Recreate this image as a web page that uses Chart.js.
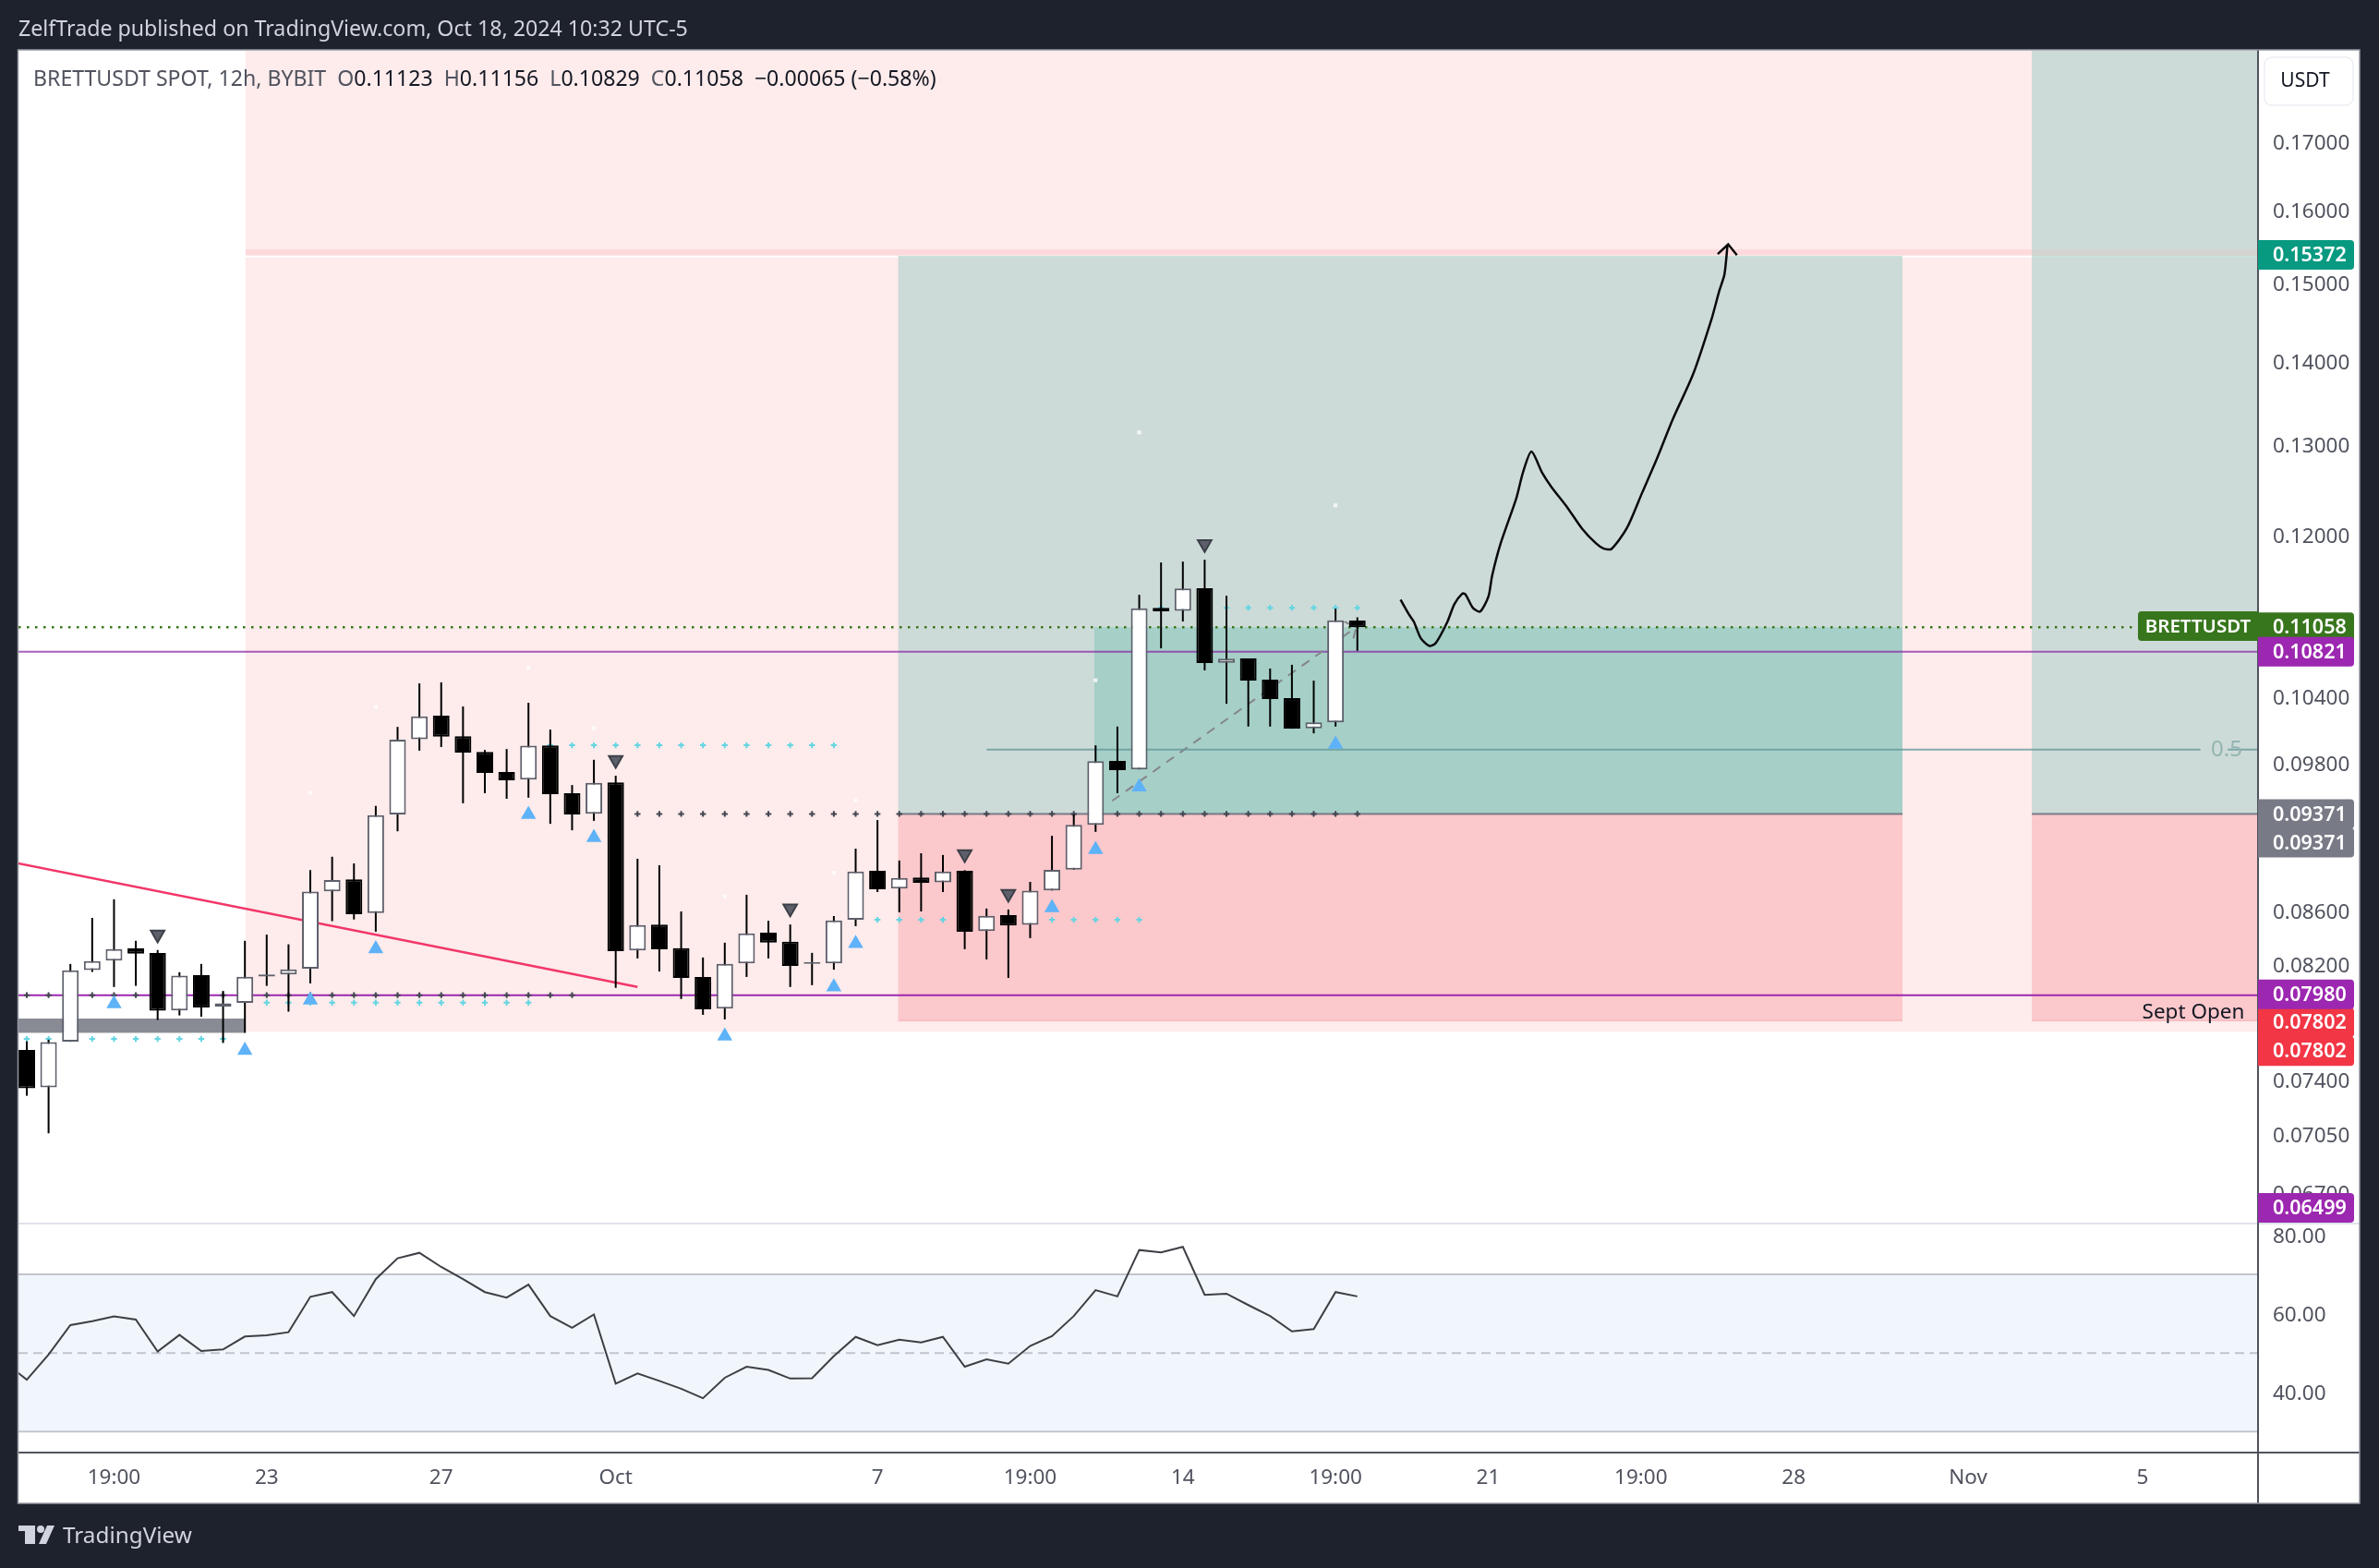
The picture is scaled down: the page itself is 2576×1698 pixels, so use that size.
<!DOCTYPE html>
<html><head><meta charset="utf-8">
<style>html,body{margin:0;padding:0;background:#1e222d}canvas{display:block}</style>
<script src="https://cdn.jsdelivr.net/npm/chart.js@4/dist/chart.umd.min.js"></script>
</head><body><canvas id="c" width="2576" height="1698" style="width:2576px;height:1698px"></canvas>
<script>
const opens=[.07601,.07353,.07657,.08160,.08228,.08318,.08284,.07873,.08123,.07898,.07926,.08113,.08127,.08170,.08749,.08843,.08582,.09366,.10013,.10224,.10039,.09901,.09726,.09660,.09958,.09545,.09372,.09637,.08303,.08496,.08319,.08110,.07885,.08208,.08435,.08367,.08205,.08208,.08531,.08910,.08771,.08858,.08820,.08910,.08446,.08567,.08494,.08756,.08919,.09280,.09822,.09748,.11251,.11221,.11447,.10716,.10757,.10556,.10384,.10110,.10163,.11123];
const highs=[.07660,.07671,.08204,.08546,.08688,.08374,.08306,.08144,.08204,.08010,.08374,.08420,.08348,.08916,.09022,.08969,.09438,.10123,.10521,.10531,.10308,.09918,.09926,.10342,.10099,.09614,.09832,.09694,.09006,.08954,.08595,.08251,.08360,.08723,.08524,.08496,.08285,.08560,.09087,.09320,.08992,.09050,.09036,.08915,.08617,.08610,.08823,.09191,.09367,.09959,.10126,.11381,.11712,.11721,.11740,.11371,.10757,.10661,.10696,.10547,.11242,.11156];
const lows=[.07299,.07060,.07657,.08146,.08038,.08046,.07806,.07838,.07829,.07649,.07718,.08046,.07864,.08064,.08521,.08534,.08442,.09228,.09912,.09944,.09460,.09545,.09498,.09507,.09289,.09236,.09314,.08032,.08244,.08149,.07953,.07842,.07810,.08110,.08244,.08038,.08051,.08162,.08483,.08744,.08588,.08595,.08744,.08312,.08237,.08103,.08394,.08756,.08919,.09223,.09545,.09748,.10853,.11115,.10643,.10333,.10126,.10126,.10107,.10065,.10126,.10829];
const closes=[.07348,.07655,.08157,.08225,.08313,.08279,.07870,.08120,.07894,.07922,.08111,.08127,.08165,.08747,.08838,.08574,.09361,.10009,.10219,.10036,.09895,.09718,.09654,.09955,.09537,.09366,.09632,.08298,.08491,.08312,.08103,.07881,.08205,.08430,.08360,.08189,.08217,.08526,.08905,.08766,.08853,.08815,.08905,.08442,.08562,.08489,.08754,.08917,.09280,.09820,.09742,.11245,.11215,.11444,.10713,.10754,.10547,.10375,.10107,.10163,.11127,.11058];
const rsiValues=[47.6,43.2,49.6,57.1,58.1,59.3,58.5,50.4,54.6,50.5,50.9,54.2,54.5,55.3,64.3,65.5,59.4,68.8,74.1,75.5,71.9,68.8,65.5,64.1,67.4,59.4,56.4,59.8,42.2,44.8,42.9,40.9,38.5,43.7,46.5,45.7,43.5,43.6,49.2,54.1,52.0,53.4,52.7,54.1,46.5,48.4,47.3,51.8,54.3,59.4,66.0,64.4,76.2,75.6,77.0,64.8,65.1,62.2,59.4,55.5,56.1,65.5,64.4];
const priceTicks=[.17,.16,.15,.14,.13,.12,.104,.098,.086,.082,.074,.0705,.067];
const rsiTicks=[80,60,40];
const xTickIdx=[4,11,19,27,39,46,53,60,67,74,81,89,97];
const xTickLabels=['19:00','23','27','Oct','7','19:00','14','19:00','21','19:00','28','Nov','5'];
const upIdx=[4,10,13,16,23,26,32,37,38,47,49,51,60];
const upVal=[.07920,.07599,.07946,.08315,.09367,.09176,.07696,.08038,.08353,.08624,.09080,.09598,.09967];
const downIdx=[6,27,35,43,45,54];
const downVal=[.08421,.09831,.08617,.09043,.08730,.11903];
const specIdx=[13,16,23,26,32,37,38,49,51,60];
const specVal=[.09548,.10302,.10670,.10111,.08711,.08895,.09485,.10550,.13143,.12320];
const darkDotsA=[0,1,2,3,4,5,6,7,8,9,10,11,12,13,14,15,16,17,18,19,20,21,22,23,24,25];
const darkDotsB=[28,29,30,31,32,33,34,35,36,37,38,39,40,41,42,43,44,45,46,47,48,49,50,51,52,53,54,55,56,57,58,59,60,61];
const cyanA=[0,1,2,3,4,5,6,7,8,9];
const cyanB=[11,12,13,14,15,16,17,18,19,20,21,22,23];
const cyanC=[24,25,26,27,28,29,30,31,32,33,34,35,36,37];
const cyanD=[39,40,41,42,43,44,45,46,47,48,49,50,51];
const cyanE=[52,53,54,55,56,57,58,59,60,61];
const levelSept=.0798, levelEntry=.09371, levelTarget=.15372, levelStop=.07802, levelLast=.11058, levelPurple=.10821, levelFib=.09922;
const levelCyanA=.07676, levelCyanB=.07927, levelCyanC=.09959, levelCyanD=.08531, levelCyanE=.11251;
const trendX=[-0.4,28], trendY=[.08969,.08038];
const fibX=[49.76,60.8], fibY=[.09480,.11036];
const fibTickX=[60.4,60.95], fibTickY=[.11114,.11058];
const fibTick2X=[60.82,60.92], fibTick2Y=[.10950,.11036];
const pathX=[62.98,63.38,63.59,63.90,64.30,64.60,65.13,65.45,65.81,65.95,66.30,66.63,67.01,67.18,67.57,68.28,68.59,68.98,69.47,69.90,70.60,71.31,71.94,72.30,72.65,73.36,74.06,74.70,75.47,76.39,77.24,77.59,77.83,77.97];
const pathY=[.11331,.11179,.11113,.10954,.10876,.10906,.11113,.11288,.11393,.11387,.11249,.11213,.11364,.11577,.11912,.12392,.12682,.12921,.12682,.12522,.12306,.12066,.11912,.11856,.11853,.12076,.12461,.12821,.13303,.13839,.14536,.14899,.15122,.15521];
const arrowX=[77.52,78.0,78.4], arrowY=[.15395,.15529,.15380];
const xMin=-0.38,xMax=102.29,yMin=.06517,yMax=.18436;
const zones=[
 [10.03,xMax,yMax,.07725,'#feebeb'],
 [39.95,85.99,levelTarget,levelEntry,'#cddbd8'],
 [91.92,xMax,yMax,levelEntry,'#cddbd8'],
 [48.94,85.99,levelLast,levelEntry,'#a6cfc8'],
 [39.95,85.99,levelEntry,levelStop,'#fbc8cc'],
 [91.92,xMax,levelEntry,levelStop,'#fbc8cc'],
 [xMin,10.03,.07816,.07718,'#888b94'],
 [10.03,91.92,.15458,.15382,'#fdd9dc'],
 [91.92,xMax,.15458,.15372,'#d3d3cf'],
 [10.03,39.95,.15372,.15350,'#ffffff'],
 [39.95,85.99,.15372,.15350,'#c8e3da'],
 [85.99,91.92,.15372,.15350,'#ffffff'],
 [91.92,xMax,.15372,.15350,'#c8e3da'],
];
const idx=opens.map((_,i)=>i);
const pts=(xs,ys)=>xs.map((x,i)=>({x,y:ys[i]}));
const lvl=(xs,v)=>xs.map(x=>({x,y:v}));
const FONT='"Noto Sans"';
const marks=(data,o)=>Object.assign({type:'line',data,xAxisID:'x',yAxisID:'y',showLine:false,order:6,pointBorderWidth:0},o);
const dots=(xs,v,color)=>marks(lvl(xs,v),{pointStyle:'cross',pointRadius:3.2,pointBorderWidth:2,pointBorderColor:color,pointBackgroundColor:color});
const hline=(v,color,w,o)=>Object.assign({type:'line',data:[{x:xMin,y:v},{x:xMax,y:v}],xAxisID:'x',yAxisID:'y',borderColor:color,borderWidth:w,pointRadius:0,order:8},o||{});
const sline=(xs,ys,color,w,o)=>Object.assign({type:'line',data:pts(xs,ys),xAxisID:'x',yAxisID:'y',borderColor:color,borderWidth:w,pointRadius:0,order:7},o||{});

function rr(ctx,x,y,w,h,tl,tr,br,bl){ctx.beginPath();ctx.roundRect(x,y,w,h,[tl,tr,br,bl]);}
const paint={id:'paint',
 beforeDraw(c){const g=c.ctx;
  g.save();g.fillStyle='#1e222d';g.fillRect(0,0,2576,1698);
  g.fillStyle='#fff';g.fillRect(20,54,2535,1574);g.restore();},
 beforeDatasetsDraw(c){const g=c.ctx,{x,y,yr}=c.scales;g.save();
  zones.forEach(z=>{const l=x.getPixelForValue(z[0]),r=x.getPixelForValue(z[1]),t=y.getPixelForValue(z[2]),b=y.getPixelForValue(z[3]);g.fillStyle=z[4];g.fillRect(l,t,r-l,b-t);});
  [[39.95,85.99],[91.92,xMax]].forEach(s=>{const l=x.getPixelForValue(s[0]),r=x.getPixelForValue(s[1]);g.fillStyle='#787b86';g.fillRect(l,y.getPixelForValue(levelEntry)-1,r-l,2);g.fillStyle='#f7adb2';g.fillRect(l,y.getPixelForValue(levelStop)-.5,r-l,1);});
  const L=x.left,R=x.right,p70=yr.getPixelForValue(70),p30=yr.getPixelForValue(30),p50=yr.getPixelForValue(50);
  g.fillStyle='#f1f6fd';g.fillRect(L,p70,R-L,p30-p70);
  g.strokeStyle='#c1c4cd';g.lineWidth=2;
  g.beginPath();g.moveTo(L,p70);g.lineTo(R,p70);g.moveTo(L,p30);g.lineTo(R,p30);g.stroke();
  g.setLineDash([10,6]);g.beginPath();g.moveTo(L,p50);g.lineTo(R,p50);g.stroke();g.setLineDash([]);
  g.restore();},
 afterDraw(c){const g=c.ctx,{y}=c.scales;g.save();
  g.textBaseline='middle';
  g.fillStyle='#e0e3eb';g.fillRect(20,1324,2535,2);
  g.fillStyle='#50535e';g.fillRect(20,1572,2535,2);g.fillRect(2444,54,2,1574);
  g.strokeStyle='#9598a1';g.lineWidth=1.5;g.strokeRect(19.5,54,2535.5,1574);
  g.textAlign='left';g.fillStyle='#d1d4dc';g.font='23.2px '+FONT;
  g.fillText('ZelfTrade published on TradingView.com, Oct 18, 2024 10:32 UTC-5',20,32.5);
  let px=36;const pieces=[['BRETTUSDT SPOT, 12h, BYBIT','#50535e'],['  ','#50535e'],['O','#50535e'],['0.11123','#131722'],['  ','#50535e'],['H','#50535e'],['0.11156','#131722'],['  ','#50535e'],['L','#50535e'],['0.10829','#131722'],['  ','#50535e'],['C','#50535e'],['0.11058','#131722'],['  ','#50535e'],['−0.00065 (−0.58%)','#131722']];
  g.font='23.1px '+FONT;
  pieces.forEach(p=>{g.fillStyle=p[1];g.fillText(p[0],px,86);px+=g.measureText(p[0]).width;});
  g.fillStyle='#fff';g.strokeStyle='#eceef3';g.lineWidth=1.5;rr(g,2452,62,96,52,8,8,8,8);g.fill();g.stroke();
  g.fillStyle='#131722';g.textAlign='center';g.font='21px '+FONT;g.fillText('USDT',2496,88);
  const tag=(txt,py,col)=>{g.fillStyle=col;rr(g,2445,py-16,104,32,0,4,4,0);g.fill();g.fillStyle='#fff';g.textAlign='left';g.font='600 21.5px '+FONT;g.fillText(txt,2461,py+1);};
  tag('0.15372',y.getPixelForValue(levelTarget)-1,'#089981');
  tag('0.11058',y.getPixelForValue(levelLast),'#38761d');
  tag('0.10821',y.getPixelForValue(levelPurple),'#9c27b0');
  tag('0.09371',y.getPixelForValue(levelEntry),'#787b86');
  tag('0.09371',y.getPixelForValue(levelEntry)+31,'#787b86');
  tag('0.07802',y.getPixelForValue(levelStop)+2,'#f23645');
  tag('0.07802',y.getPixelForValue(levelStop)+33,'#f23645');
  tag('0.07980',y.getPixelForValue(levelSept)-1,'#9c27b0');
  tag('0.06499',1308,'#9c27b0');
  g.fillStyle='#38761d';rr(g,2315,662,130,32,4,0,0,4);g.fill();
  g.fillStyle='#fff';g.textAlign='center';g.font='600 20.5px '+FONT;g.fillText('BRETTUSDT',2380,679);
  g.fillStyle='#131722';g.textAlign='center';g.font='22.5px '+FONT;g.fillText('Sept Open',2375,1097);
  g.fillStyle='#93b5b1';g.font='24px '+FONT;g.fillText('0.5',2411,y.getPixelForValue(levelFib)+1);
  g.fillStyle='#d1d4dc';
  g.fillRect(20,1652,18,6);g.fillRect(27,1652,11,20);
  g.beginPath();g.arc(44,1656,4,0,7);g.fill();
  g.beginPath();g.moveTo(51,1652);g.lineTo(59,1652);g.lineTo(50,1672);g.lineTo(42,1672);g.closePath();g.fill();
  g.textAlign='left';g.font='24.3px '+FONT;g.fillText('TradingView',68,1664);
  g.restore();}
};

const datasets=[
 {type:'bar',label:'bodies',data:idx.map(i=>({x:i,y:[Math.min(opens[i],closes[i]),Math.max(opens[i],closes[i])]})),xAxisID:'x',yAxisID:'y',barThickness:18,grouped:false,order:1,borderSkipped:false,inflateAmount:0,
  backgroundColor:idx.map(i=>closes[i]>=opens[i]?'#ffffff':'#000000'),borderColor:idx.map(i=>closes[i]>=opens[i]?'#5d606b':'#000000'),borderWidth:2},
 {type:'bar',label:'wicks',data:idx.map(i=>({x:i,y:[lows[i],highs[i]]})),xAxisID:'x',yAxisID:'y',barThickness:2,grouped:false,order:2,backgroundColor:'#000000',borderWidth:0,inflateAmount:0},
 hline(levelSept,'#9c27b0',2),
 hline(levelPurple,'rgba(136,43,165,.75)',2),
 hline(levelLast,'#38761d',2.5,{borderDash:[2.5,6.5],data:[{x:xMin,y:levelLast},{x:96.7,y:levelLast}]}),
 sline(trendX,trendY,'#f23669',2.5),
 sline([44,99.65],[levelFib,levelFib],'rgba(96,150,150,.75)',2),
 sline([100.9,xMax],[levelFib,levelFib],'rgba(96,150,150,.75)',2),
 sline(fibX,fibY,'#85868c',2,{borderDash:[10,8]}),
 sline(fibTickX,fibTickY,'#85868c',2),
 sline(fibTick2X,fibTick2Y,'#85868c',2),
 dots(darkDotsA,levelSept,'#434651'),
 dots(darkDotsB,levelEntry,'#434651'),
 dots(cyanA,levelCyanA,'#62d5e2'),
 dots(cyanB,levelCyanB,'#62d5e2'),
 dots(cyanC,levelCyanC,'#62d5e2'),
 dots(cyanD,levelCyanD,'#62d5e2'),
 dots(cyanE,levelCyanE,'#62d5e2'),
 marks(pts(specIdx,specVal),{pointStyle:'rect',pointRadius:3,pointBackgroundColor:'rgba(255,255,255,.75)',order:6}),
 marks(pts(upIdx,upVal),{pointStyle:'triangle',pointRadius:9.5,pointBackgroundColor:'#5eb2f7',order:0}),
 marks(pts(downIdx,downVal),{pointStyle:'triangle',pointRotation:180,pointRadius:8.5,pointBackgroundColor:'#5d606b',pointBorderColor:'#3d4048',pointBorderWidth:2,order:0}),
 sline(pathX,pathY,'#0a0a0a',2.5,{tension:.25,order:0}),
 sline(arrowX,arrowY,'#0a0a0a',2.5,{order:0}),
 {type:'line',data:rsiValues.map((v,i)=>({x:i-1,y:v})),xAxisID:'x',yAxisID:'yr',borderColor:'#3d3f44',borderWidth:2,pointRadius:0,order:3},
];
Chart.register(paint);
const noGrid={display:false,drawTicks:false};
new Chart(document.getElementById('c').getContext('2d'),{
 type:'bar',data:{datasets},
 options:{responsive:false,devicePixelRatio:1,animation:false,events:[],
  layout:{padding:{left:20,top:55,right:21,bottom:70}},
  plugins:{legend:{display:false},title:{display:false},tooltip:{enabled:false}},
  scales:{
   x:{type:'linear',min:xMin,max:xMax,offset:false,grid:noGrid,border:{display:false},
    afterBuildTicks:s=>{s.ticks=xTickIdx.map(v=>({value:v}));},
    afterFit:s=>{s.height=55;},
    ticks:{autoSkip:false,maxRotation:0,padding:14,color:'#50535e',font:{family:'"Noto Sans"',size:22.5},callback:v=>xTickLabels[xTickIdx.indexOf(v)]}},
   y:{type:'logarithmic',position:'right',stack:'p',stackWeight:1270,weight:0,min:yMin,max:yMax,grid:noGrid,border:{display:false},
    afterBuildTicks:s=>{s.ticks=priceTicks.map(v=>({value:v}));},
    afterFit:s=>{s.width=110;},
    ticks:{autoSkip:false,padding:16,labelOffset:2,color:'#50535e',font:{family:'"Noto Sans"',size:22.5},callback:v=>Number(v).toFixed(5)}},
   yr:{type:'linear',position:'right',stack:'p',stackWeight:248,weight:1,min:24.66,max:82.94,grid:noGrid,border:{display:false},
    afterBuildTicks:s=>{s.ticks=rsiTicks.map(v=>({value:v}));},
    afterFit:s=>{s.width=110;},
    ticks:{autoSkip:false,padding:16,labelOffset:2,color:'#50535e',font:{family:'"Noto Sans"',size:22.5},callback:v=>Number(v).toFixed(2)}}
  }},
});
</script></body></html>
